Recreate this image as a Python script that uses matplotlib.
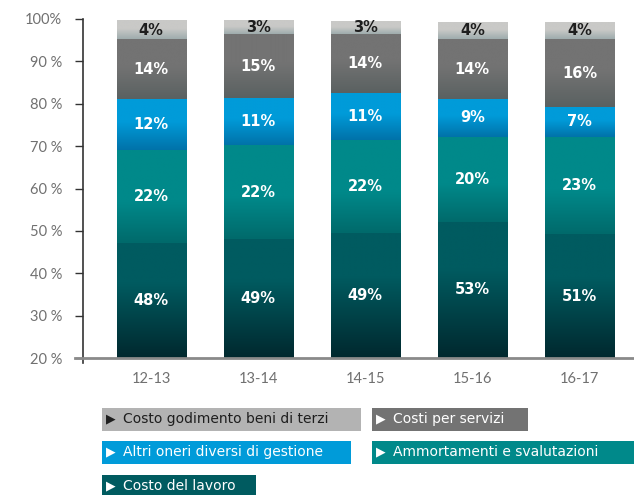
import numpy as np
import matplotlib
matplotlib.use("Agg")
import matplotlib.pyplot as plt
from matplotlib.patches import Rectangle
from matplotlib.colors import to_rgb

# ---------------- data ----------------
years = ["12-13", "13-14", "14-15", "15-16", "16-17"]
series_names = ["Costo del lavoro", "Ammortamenti e svalutazioni",
                "Altri oneri diversi di gestione", "Costi per servizi",
                "Costo godimento beni di terzi"]
lavoro = [47.2, 48.1, 49.5, 52.1, 49.2]
ammortamenti = [21.9, 22.1, 21.9, 20.1, 23.0]
oneri = [12.1, 11.2, 11.1, 9.0, 7.1]
servizi = [14.0, 15.0, 14.0, 14.0, 15.9]
godimento = [4.3, 3.1, 3.0, 4.0, 4.0]
labels_lavoro = ["48%", "49%", "49%", "53%", "51%"]
labels_amm = ["22%", "22%", "22%", "20%", "23%"]
labels_oneri = ["12%", "11%", "11%", "9%", "7%"]
labels_servizi = ["14%", "15%", "14%", "14%", "16%"]
labels_god = ["4%", "3%", "3%", "4%", "4%"]
yticks = [20, 30, 40, 50, 60, 70, 80, 90, 100]
yticklabels = ["20 %", "30 %", "40 %", "50 %", "60 %", "70 %", "80 %", "90 %", "100%"]

series = [lavoro, ammortamenti, oneri, servizi, godimento]
series_labels = [labels_lavoro, labels_amm, labels_oneri, labels_servizi, labels_god]
top_cols = ["#005b60", "#00898a", "#009bd9", "#737373", "#c9c9c7"]
bot_cols = ["#00282e", "#006a6b", "#0072a9", "#5a6161", "#9eacad"]
grad_start = [0.35, 0.55, 0.45, 0.45, 0.45]
legend_cols = ["#005b60", "#00898a", "#009bd9", "#737373", "#b3b3b3"]
label_cols = ["white", "white", "white", "white", "#1e1e1e"]

plt.rcParams["font.family"] = ["Lato", "DejaVu Sans"]

W, H = 634, 495
fig = plt.figure(figsize=(W / 100, H / 100), dpi=100)
ax = fig.add_axes([83 / W, 1 - 358 / H, 1 - 83 / W, (358 - 19) / H])

YMIN, YMAX = 20, 100
x = np.arange(len(years))
width = 0.645
bottom = np.zeros(len(years))


def grad(top, bot, frac, n=256):
    t = np.linspace(0, 1, n)
    w = np.clip((t - frac) / (1 - frac), 0, 1)
    a = np.array(to_rgb(top))
    b = np.array(to_rgb(bot))
    cols = a[None, :] * (1 - w[:, None]) + b[None, :] * w[:, None]
    return cols[:, None, :]


for si, vals in enumerate(series):
    bars = ax.bar(x, vals, width, bottom=bottom, color=top_cols[si],
                  linewidth=0, zorder=2)
    img = grad(top_cols[si], bot_cols[si], grad_start[si])
    for bi, r in enumerate(bars):
        x0, x1 = r.get_x(), r.get_x() + r.get_width()
        y0 = max(r.get_y(), YMIN)
        y1 = r.get_y() + r.get_height()
        ax.imshow(img, extent=[x0, x1, y0, y1], aspect="auto",
                  origin="upper", zorder=3, interpolation="bilinear")
        ax.text(r.get_x() + r.get_width() / 2, (y0 + y1) / 2,
                series_labels[si][bi], ha="center", va="center",
                color=label_cols[si], fontsize=10.5, fontweight="bold",
                family="DejaVu Sans", zorder=5)
    bottom = bottom + np.array(vals)

ax.set_xlim(-0.636, 4.51)
ax.set_ylim(YMIN, YMAX)
ax.set_xticks(x)
ax.set_xticklabels(years, color="#707070", fontsize=10.5)
ax.tick_params(axis="x", length=0, pad=10)
ax.set_yticks(yticks)
ax.set_yticklabels(yticklabels, color="#707070", fontsize=10.5)
ax.tick_params(axis="y", length=6, width=1, color="#333333", pad=9)
for s in ["top", "right", "bottom", "left"]:
    ax.spines[s].set_visible(False)

axh = 358 - 19
axw = W - 83
ax.plot([0, 0], [-5 / axh, 1], transform=ax.transAxes, color="#333333",
        lw=1.2, clip_on=False, zorder=6)
ax.plot([-8 / axw, 1], [0, 0], transform=ax.transAxes, color="#8a8a8a",
        lw=2, clip_on=False, zorder=6)

# ---------------- legend ----------------
boxes = [  # (series index, x0, y0, x1, y1) in pixels from top-left
    (4, 102, 408, 361, 431),
    (3, 372, 408, 528, 431),
    (2, 102, 441, 351, 464),
    (1, 372, 441, 640, 464),
    (0, 102, 475, 256, 498),
]
for si, x0, y0, x1, y1 in boxes:
    fig.patches.append(Rectangle((x0 / W, 1 - y1 / H), (x1 - x0) / W, (y1 - y0) / H,
                                 transform=fig.transFigure, color=legend_cols[si],
                                 linewidth=0, zorder=1))
    yc = 1 - ((y0 + y1) / 2 - 0.5) / H
    fig.text((x0 + 4) / W, yc, "\u25B6", ha="left", va="center", fontsize=9,
             family="DejaVu Sans", color=label_cols[si], zorder=2)
    fig.text((x0 + 21) / W, yc, series_names[si], ha="left", va="center",
             fontsize=10, family="DejaVu Sans", color=label_cols[si], zorder=2)

fig.savefig("out.png", dpi=100)
